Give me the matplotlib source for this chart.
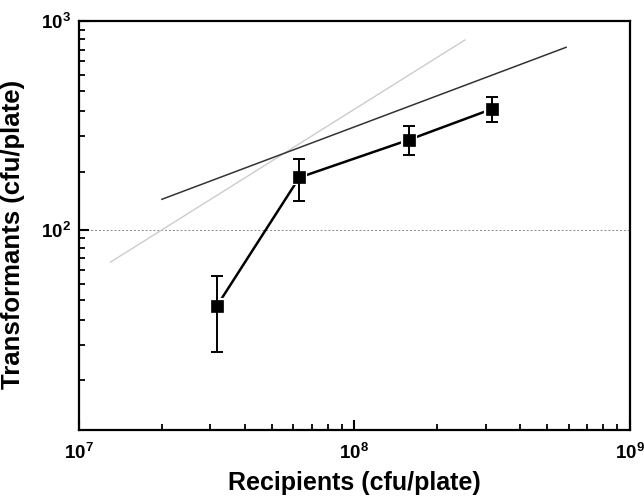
import numpy as np
import matplotlib.pyplot as plt
from matplotlib.ticker import FixedLocator, NullFormatter

plt.rcParams['font.family'] = ['Liberation Sans', 'DejaVu Sans']
plt.rcParams['mathtext.fontset'] = 'custom'
plt.rcParams['mathtext.bf'] = 'Liberation Sans:bold'
plt.rcParams['mathtext.rm'] = 'Liberation Sans:bold'

# data
recipients = [3.16e7, 6.31e7, 1.58e8, 3.16e8]
transformants = [43, 178, 270, 379]
err_low = [17, 41, 43, 52]
err_high = [17, 41, 45, 53]

# reference lines (end points)
ref_grey_x = [1.30e7, 2.52e8]
ref_grey_y = [70, 811]
ref_black_x = [2.0e7, 5.87e8]
ref_black_y = [140, 748]
baseline = 100

fig = plt.figure(figsize=(6.44, 4.99), dpi=100)
ax = fig.add_axes([0.1227, 0.1383, 0.8553, 0.8197])

ax.axhline(baseline, color='#888888', lw=0.7, ls=(0, (2, 2)), zorder=1)
ax.plot(ref_grey_x, ref_grey_y, color='#cccccc', lw=1.0, zorder=1)
ax.plot(ref_black_x, ref_black_y, color='#333333', lw=1.1, zorder=1)

# connecting line, then squares with white rim for the gap, then error bars
ax.plot(recipients, transformants, color='black', lw=1.8, zorder=2)
ax.plot(recipients, transformants, ls='none', marker='s', ms=9,
        mfc='black', mec='white', mew=3, zorder=3)
ax.errorbar(recipients, transformants, yerr=[err_low, err_high], fmt='none',
            ecolor='black', elinewidth=1.4, capsize=4, capthick=1.4, zorder=4)
ax.plot(recipients, transformants, ls='none', marker='s', ms=8.5,
        mfc='black', mec='black', mew=0.5, zorder=5)

ax.set_xscale('log')
ax.set_yscale('log')
ax.set_xlim(1e7, 1e9)
ax.set_ylim(11, 1000)

ax.set_xticks([1e7, 1e8, 1e9])
ax.set_xticklabels([r'$\mathbf{10^{7}}$', r'$\mathbf{10^{8}}$', r'$\mathbf{10^{9}}$'])
ax.set_yticks([100, 1000])
ax.set_yticklabels([r'$\mathbf{10^{2}}$', r'$\mathbf{10^{3}}$'])
ax.yaxis.set_minor_locator(FixedLocator([19, 28, 37, 46, 55, 64, 73, 82, 91,
                                         190, 280, 370, 460, 550, 640, 730, 820, 910]))
ax.yaxis.set_minor_formatter(NullFormatter())
ax.xaxis.set_minor_formatter(NullFormatter())

ax.tick_params(which='major', direction='in', length=7, width=1.5, labelsize=13.5, pad=9)
ax.tick_params(which='minor', direction='in', length=4, width=1.3)
ax.tick_params(axis='y', which='major', pad=6)
for s in ax.spines.values():
    s.set_linewidth(1.6)

ax.set_xlabel('Recipients (cfu/plate)', fontsize=18, fontweight='bold', labelpad=6)
ax.set_ylabel('Transformants (cfu/plate)', fontsize=18.5, fontweight='bold')
ax.yaxis.set_label_coords(-0.098, 0.477)

fig.savefig('out.png', dpi=100)
